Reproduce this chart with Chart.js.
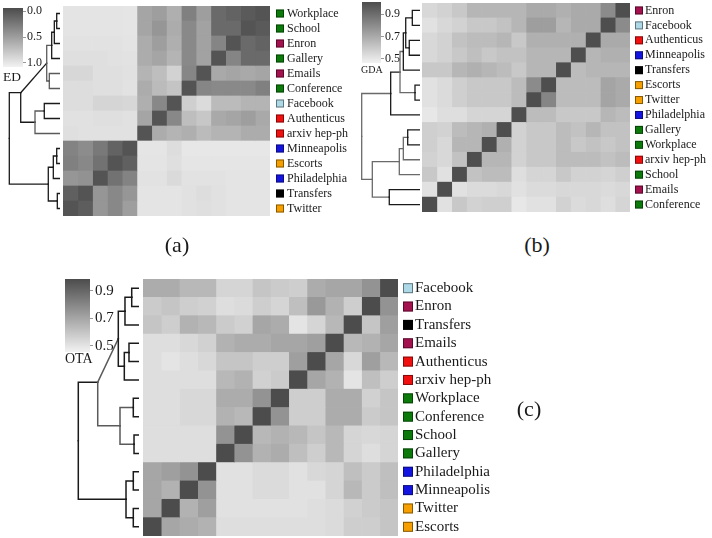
<!DOCTYPE html>
<html>
<head>
<meta charset="utf-8">
<script src="https://cdn.jsdelivr.net/npm/chart.js@4"></script>
<style>
  body { margin: 0; width: 712px; height: 538px; background: #fff; position: relative; overflow: hidden; }
  canvas { position: absolute; }
  .txt { position: absolute; font-family: 'Liberation Serif', serif; color: #1a1a1a; line-height: 1; white-space: nowrap; }
  .panel { transform: translate(-50%, -50%); font-size: 22px; }
</style>
</head>
<body>
<canvas id="dendA" width="60" height="210" style="left:0;top:6px"></canvas>
<canvas id="barA" width="60" height="72" style="left:0;top:0"></canvas>
<canvas id="heatA" width="297" height="210" style="left:63px;top:6px"></canvas>
<div class="txt" style="left:3px;top:70px;font-size:13.5px">ED</div>

<canvas id="dendB" width="60" height="209" style="left:360px;top:3px"></canvas>
<canvas id="barB" width="60" height="68" style="left:360px;top:0"></canvas>
<canvas id="heatB" width="290" height="209" style="left:422px;top:3px"></canvas>
<div class="txt" style="left:361px;top:65px;font-size:10px">GDA</div>

<canvas id="dendC" width="77" height="257" style="left:62px;top:279px"></canvas>
<canvas id="barC" width="70" height="86" style="left:62px;top:272px"></canvas>
<canvas id="heatC" width="375" height="257" style="left:143px;top:279px"></canvas>
<div class="txt" style="left:65px;top:352px;font-size:14px">OTA</div>

<div class="txt panel" style="left:177px;top:245px">(a)</div>
<div class="txt panel" style="left:537px;top:245px">(b)</div>
<div class="txt panel" style="left:529px;top:409px">(c)</div>

<script>
// network type colours for the little squares
const netColors = {
  'Workplace': '#0b7a0b', 'School': '#0b7a0b', 'Gallery': '#0b7a0b', 'Conference': '#0b7a0b',
  'Enron': '#a3124e', 'Emails': '#a3124e',
  'Facebook': '#add8e6',
  'Authenticus': '#f01010', 'arxiv hep-ph': '#f01010',
  'Minneapolis': '#1414e0', 'Philadelphia': '#1414e0',
  'Escorts': '#f5a000', 'Twitter': '#f5a000',
  'Transfers': '#000000'
};

// (a) ED
const rowsA = ['Workplace', 'School', 'Enron', 'Gallery', 'Emails', 'Conference', 'Facebook',
  'Authenticus', 'arxiv hep-ph', 'Minneapolis', 'Escorts', 'Philadelphia', 'Transfers', 'Twitter'];
const edValues = [
  [0.98, 0.98, 0.98, 0.98, 0.99, 0.55, 0.50, 0.62, 0.30, 0.50, 0.15, 0.10, 0.04, 0.00],
  [0.98, 0.98, 0.98, 0.98, 0.99, 0.55, 0.45, 0.60, 0.36, 0.53, 0.15, 0.15, 0.00, 0.04],
  [0.97, 0.97, 0.97, 0.97, 0.98, 0.60, 0.50, 0.62, 0.36, 0.53, 0.33, 0.00, 0.15, 0.10],
  [0.95, 0.95, 0.95, 0.96, 0.97, 0.60, 0.55, 0.65, 0.36, 0.53, 0.00, 0.33, 0.15, 0.15],
  [0.89, 0.89, 0.95, 0.95, 0.96, 0.65, 0.72, 0.86, 0.34, 0.00, 0.58, 0.55, 0.58, 0.55],
  [0.93, 0.93, 0.95, 0.95, 0.97, 0.60, 0.70, 0.76, 0.00, 0.34, 0.36, 0.36, 0.36, 0.30],
  [0.93, 0.93, 0.88, 0.88, 0.89, 0.62, 0.35, 0.00, 0.84, 0.92, 0.70, 0.70, 0.65, 0.65],
  [0.96, 0.96, 0.95, 0.95, 0.96, 0.55, 0.00, 0.35, 0.72, 0.78, 0.58, 0.55, 0.50, 0.58],
  [0.95, 0.96, 0.96, 0.96, 0.96, 0.00, 0.60, 0.65, 0.62, 0.70, 0.65, 0.65, 0.60, 0.60],
  [0.32, 0.38, 0.25, 0.10, 0.00, 0.99, 0.99, 0.93, 1.00, 1.00, 1.00, 1.00, 1.00, 1.00],
  [0.30, 0.35, 0.20, 0.00, 0.08, 0.98, 0.98, 0.95, 0.99, 0.99, 0.99, 0.99, 0.99, 0.99],
  [0.45, 0.42, 0.00, 0.20, 0.32, 0.97, 0.97, 0.91, 0.97, 0.97, 0.97, 0.98, 0.98, 0.98],
  [0.08, 0.00, 0.45, 0.35, 0.45, 0.98, 0.98, 0.98, 0.96, 0.93, 0.96, 0.98, 0.98, 0.98],
  [0.00, 0.06, 0.45, 0.35, 0.50, 0.98, 0.98, 0.98, 0.96, 0.95, 0.96, 0.98, 0.98, 0.98]
];
const edRange = [-0.058, 1.077];
const edTicks = [0, 0.25, 0.5, 0.75, 1.0];
const edLabelled = [0, 0.5, 1.0];
// merges: [childA, childB, height]; leaves are 0..13, merge k is node 14 + k
const mergesA = [
  [0, 1, 0.065], [14, 2, 0.112], [15, 3, 0.164], [4, 5, 0.211], [16, 17, 0.262],
  [6, 7, 0.31], [19, 8, 0.493], [18, 20, 0.775], [9, 10, 0.065], [22, 11, 0.132],
  [12, 13, 0.053], [23, 24, 0.231], [21, 25, 1.0]
];
const mergeColorsA = ['#1a1a1a', '#1a1a1a', '#1a1a1a', '#5a5a5a', '#5a5a5a', '#1a1a1a', '#5a5a5a',
  '#1a1a1a', '#1a1a1a', '#1a1a1a', '#1a1a1a', '#1a1a1a', '#1a1a1a'];
const diagA = [7];

// (b) GDA
const rowsB = ['Enron', 'Facebook', 'Authenticus', 'Minneapolis', 'Transfers', 'Escorts', 'Twitter',
  'Philadelphia', 'Gallery', 'Workplace', 'arxiv hep-ph', 'School', 'Emails', 'Conference'];
const gdaValues = [
  [0.55, 0.57, 0.60, 0.66, 0.66, 0.66, 0.66, 0.70, 0.70, 0.68, 0.70, 0.70, 0.80, 1.00],
  [0.52, 0.55, 0.57, 0.60, 0.60, 0.62, 0.66, 0.74, 0.74, 0.66, 0.70, 0.70, 1.00, 0.80],
  [0.55, 0.57, 0.62, 0.64, 0.64, 0.66, 0.60, 0.68, 0.68, 0.68, 0.68, 1.00, 0.70, 0.70],
  [0.55, 0.57, 0.60, 0.63, 0.60, 0.62, 0.62, 0.66, 0.66, 0.66, 1.00, 0.66, 0.68, 0.68],
  [0.60, 0.60, 0.66, 0.68, 0.66, 0.64, 0.60, 0.66, 0.66, 1.00, 0.64, 0.66, 0.66, 0.66],
  [0.52, 0.54, 0.58, 0.60, 0.60, 0.60, 0.64, 0.80, 1.00, 0.64, 0.64, 0.64, 0.72, 0.70],
  [0.52, 0.54, 0.58, 0.60, 0.60, 0.60, 0.64, 1.00, 0.82, 0.64, 0.64, 0.64, 0.72, 0.70],
  [0.50, 0.53, 0.53, 0.56, 0.56, 0.56, 1.00, 0.64, 0.64, 0.60, 0.60, 0.60, 0.66, 0.64],
  [0.58, 0.57, 0.64, 0.66, 0.68, 1.00, 0.57, 0.60, 0.60, 0.64, 0.62, 0.66, 0.62, 0.62],
  [0.58, 0.55, 0.66, 0.66, 1.00, 0.68, 0.57, 0.60, 0.60, 0.64, 0.60, 0.62, 0.60, 0.62],
  [0.57, 0.55, 0.62, 1.00, 0.66, 0.66, 0.57, 0.60, 0.60, 0.64, 0.64, 0.64, 0.62, 0.64],
  [0.60, 0.52, 1.00, 0.62, 0.64, 0.64, 0.53, 0.56, 0.56, 0.60, 0.57, 0.57, 0.56, 0.58],
  [0.52, 1.00, 0.52, 0.54, 0.54, 0.55, 0.52, 0.54, 0.54, 0.55, 0.55, 0.55, 0.54, 0.55],
  [1.00, 0.52, 0.60, 0.57, 0.58, 0.58, 0.50, 0.52, 0.52, 0.57, 0.54, 0.55, 0.53, 0.56]
];
const gdaRange = [0.464, 1.007];
const gdaTicks = [0.5, 0.6, 0.7, 0.8, 0.9];
const gdaLabelled = [0.5, 0.7, 0.9];
const mergesB = [
  [0, 1, 0.132], [2, 3, 0.184], [14, 15, 0.245], [16, 4, 0.286], [5, 6, 0.086],
  [17, 18, 0.343], [19, 7, 0.503], [8, 9, 0.211], [21, 10, 0.286], [22, 11, 0.355],
  [12, 13, 0.527], [23, 24, 0.818], [20, 25, 1.0]
];
const mergeColorsB = ['#1a1a1a', '#1a1a1a', '#1a1a1a', '#1a1a1a', '#1a1a1a', '#6a6a6a', '#1a1a1a',
  '#1a1a1a', '#6a6a6a', '#6a6a6a', '#1a1a1a', '#6a6a6a', '#6a6a6a'];
const diagB = [];

// (c) OTA
const rowsC = ['Facebook', 'Enron', 'Transfers', 'Emails', 'Authenticus', 'arxiv hep-ph', 'Workplace',
  'Conference', 'School', 'Gallery', 'Philadelphia', 'Minneapolis', 'Twitter', 'Escorts'];
const otaValues = [
  [0.68, 0.68, 0.64, 0.64, 0.55, 0.55, 0.60, 0.58, 0.57, 0.68, 0.70, 0.70, 0.76, 1.00],
  [0.58, 0.60, 0.57, 0.56, 0.52, 0.53, 0.57, 0.55, 0.62, 0.74, 0.66, 0.57, 1.00, 0.76],
  [0.60, 0.57, 0.66, 0.64, 0.58, 0.56, 0.70, 0.68, 0.50, 0.55, 0.64, 1.00, 0.60, 0.72],
  [0.52, 0.52, 0.54, 0.56, 0.66, 0.68, 0.68, 0.70, 0.70, 0.72, 1.00, 0.64, 0.66, 0.70],
  [0.52, 0.50, 0.52, 0.54, 0.60, 0.60, 0.57, 0.57, 0.72, 1.00, 0.70, 0.54, 0.72, 0.64],
  [0.52, 0.52, 0.52, 0.52, 0.64, 0.66, 0.56, 0.58, 1.00, 0.70, 0.66, 0.50, 0.62, 0.57],
  [0.52, 0.52, 0.54, 0.54, 0.68, 0.68, 0.76, 1.00, 0.57, 0.57, 0.68, 0.68, 0.56, 0.60],
  [0.52, 0.52, 0.54, 0.54, 0.66, 0.64, 1.00, 0.76, 0.57, 0.57, 0.68, 0.68, 0.58, 0.60],
  [0.52, 0.52, 0.52, 0.52, 0.76, 1.00, 0.64, 0.66, 0.64, 0.60, 0.64, 0.55, 0.54, 0.55],
  [0.52, 0.52, 0.52, 0.52, 1.00, 0.76, 0.66, 0.68, 0.62, 0.57, 0.64, 0.55, 0.52, 0.55],
  [0.70, 0.72, 0.76, 1.00, 0.51, 0.51, 0.53, 0.53, 0.51, 0.54, 0.55, 0.62, 0.58, 0.62],
  [0.70, 0.66, 1.00, 0.76, 0.51, 0.51, 0.53, 0.53, 0.51, 0.51, 0.55, 0.64, 0.58, 0.62],
  [0.70, 1.00, 0.66, 0.72, 0.51, 0.51, 0.51, 0.51, 0.51, 0.52, 0.53, 0.56, 0.58, 0.60],
  [1.00, 0.70, 0.68, 0.66, 0.52, 0.52, 0.52, 0.52, 0.52, 0.52, 0.53, 0.57, 0.57, 0.60]
];
const otaRange = [0.456, 0.987];
const otaTicks = [0.5, 0.6, 0.7, 0.8, 0.9];
const otaLabelled = [0.5, 0.7, 0.9];
const mergesC = [
  [0, 1, 0.120], [14, 2, 0.231], [3, 4, 0.165], [16, 5, 0.242], [15, 17, 0.341],
  [6, 7, 0.094], [8, 9, 0.082], [19, 20, 0.313], [18, 21, 0.680], [10, 11, 0.094],
  [12, 13, 0.094], [23, 24, 0.214], [22, 25, 1.0]
];
const mergeColorsC = ['#1a1a1a', '#1a1a1a', '#1a1a1a', '#1a1a1a', '#1a1a1a', '#1a1a1a', '#1a1a1a',
  '#5a5a5a', '#5a5a5a', '#1a1a1a', '#1a1a1a', '#1a1a1a', '#1a1a1a'];
const diagC = [8];

const LIGHT = 242;
const DARK = 76;
const FONT = 'Liberation Serif';

function grayFor(v, range, invert) {
  let t = (v - range[0]) / (range[1] - range[0]);
  if (invert) t = 1 - t;
  t = Math.max(0, Math.min(1, t));
  const g = Math.round(LIGHT + (DARK - LIGHT) * t);
  return `rgb(${g},${g},${g})`;
}

// the tick padding would otherwise also pad the chart area top and bottom
function fixAxis(width) {
  return axis => {
    axis.width = width;
    axis.paddingTop = 0;
    axis.paddingBottom = 0;
  };
}

const netSquares = {
  id: 'netSquares',
  afterDraw(chart, args, opts) {
    const ctx = chart.ctx;
    const y = chart.scales.y;
    const area = chart.chartArea;
    chart.data.labels.forEach((name, i) => {
      const py = y.getPixelForValue(i);
      const x = area.right + opts.gap;
      ctx.fillStyle = netColors[name];
      ctx.fillRect(x, py - opts.size / 2, opts.size, opts.size);
      ctx.strokeStyle = 'rgba(0,0,0,0.45)';
      ctx.lineWidth = 1;
      ctx.strokeRect(x + 0.5, py - opts.size / 2 + 0.5, opts.size - 1, opts.size - 1);
    });
  }
};

function makeHeatmap(id, rows, values, range, invert, fontSize, pad, axisW, sq) {
  const n = rows.length;
  const datasets = [];
  for (let j = 0; j < n; j++) {
    datasets.push({
      data: rows.map(() => 1),
      backgroundColor: rows.map((_, i) => grayFor(values[i][j], range, invert)),
      borderWidth: 0,
      categoryPercentage: 1,
      barPercentage: 1
    });
  }
  new Chart(document.getElementById(id), {
    type: 'bar',
    data: { labels: rows, datasets: datasets },
    options: {
      indexAxis: 'y',
      responsive: false,
      animation: false,
      layout: { padding: 0 },
      plugins: {
        legend: { display: false },
        tooltip: { enabled: false },
        netSquares: sq
      },
      scales: {
        x: { stacked: true, min: 0, max: n, display: false },
        y: {
          stacked: true,
          position: 'right',
          grid: { display: false, drawTicks: false },
          border: { display: false },
          ticks: { color: '#1a1a1a', font: { family: FONT, size: fontSize }, padding: pad, autoSkip: false },
          afterFit: fixAxis(axisW)
        }
      }
    },
    plugins: [netSquares]
  });
}

function makeDendrogram(id, merges, colors, diag, xmax, lineW) {
  const nodes = [];
  for (let i = 0; i < 14; i++) nodes.push({ h: 0, y: i + 0.5 });
  const datasets = [];
  merges.forEach(([a, b, h], k) => {
    const A = nodes[a];
    const B = nodes[b];
    const y = (A.y + B.y) / 2;
    const linkA = diag.includes(k)
      ? [{ x: A.h, y: A.y }, { x: h, y: y }]
      : [{ x: A.h, y: A.y }, { x: h, y: A.y }, { x: h, y: y }];
    const linkB = [{ x: B.h, y: B.y }, { x: h, y: B.y }, { x: h, y: y }];
    [linkA, linkB].forEach(pts => {
      datasets.push({
        data: pts,
        showLine: true,
        borderColor: colors[k],
        borderWidth: lineW,
        pointRadius: 0,
        borderCapStyle: 'square',
        borderJoinStyle: 'miter',
        clip: false
      });
    });
    nodes.push({ h: h, y: y });
  });
  new Chart(document.getElementById(id), {
    type: 'scatter',
    data: { datasets: datasets },
    options: {
      responsive: false,
      animation: false,
      layout: { padding: 0 },
      plugins: { legend: { display: false }, tooltip: { enabled: false } },
      scales: {
        x: { type: 'linear', min: 0, max: xmax, reverse: true, display: false },
        y: { type: 'linear', min: 0, max: 14, reverse: true, display: false }
      }
    }
  });
}

function makeColorbar(id, range, invert, ticks, labelled, fontSize, padding, axisW, pad) {
  new Chart(document.getElementById(id), {
    type: 'bar',
    data: {
      labels: [''],
      datasets: [{
        data: [[range[0], range[1]]],
        backgroundColor: c => {
          const chart = c.chart;
          if (!chart.chartArea) return '#999';
          const y = chart.scales.y;
          const g = chart.ctx.createLinearGradient(0, y.getPixelForValue(range[0]), 0, y.getPixelForValue(range[1]));
          g.addColorStop(0, grayFor(range[0], range, invert));
          g.addColorStop(1, grayFor(range[1], range, invert));
          return g;
        },
        borderWidth: 0,
        categoryPercentage: 1,
        barPercentage: 1
      }]
    },
    options: {
      responsive: false,
      animation: false,
      layout: { padding: padding },
      plugins: { legend: { display: false }, tooltip: { enabled: false } },
      scales: {
        x: { display: false },
        y: {
          position: 'right',
          min: range[0],
          max: range[1],
          reverse: invert,
          grid: { drawOnChartArea: false, drawTicks: true, tickLength: 3, color: '#999' },
          border: { display: false },
          afterBuildTicks: axis => { axis.ticks = ticks.map(v => ({ value: v })); },
          ticks: {
            color: '#1a1a1a',
            font: { family: FONT, size: fontSize },
            padding: pad,
            callback: v => labelled.some(l => Math.abs(l - v) < 1e-6) ? v.toFixed(1) : ''
          },
          afterFit: fixAxis(axisW)
        }
      }
    }
  });
}

makeHeatmap('heatA', rowsA, edValues, edRange, true, 12, 17, 90, { gap: 6, size: 8 });
makeHeatmap('heatB', rowsB, gdaValues, gdaRange, false, 12, 15, 82, { gap: 5, size: 8 });
makeHeatmap('heatC', rowsC, otaValues, otaRange, false, 15, 17, 120, { gap: 5, size: 10 });

makeDendrogram('dendA', mergesA, mergeColorsA, diagA, 60 / 50.7, 1.3);
makeDendrogram('dendB', mergesB, mergeColorsB, diagB, 60 / 58.3, 1.3);
makeDendrogram('dendC', mergesC, mergeColorsC, diagC, 77 / 60.7, 1.5);

makeColorbar('barA', edRange, true, edTicks, edLabelled, 12, { left: 3, top: 8, bottom: 5 }, 37, 1);
makeColorbar('barB', gdaRange, false, gdaTicks, gdaLabelled, 12, { left: 2, top: 2, bottom: 5 }, 39, 1);
makeColorbar('barC', otaRange, false, otaTicks, otaLabelled, 15, { left: 3, top: 7, bottom: 6 }, 42, 2);
</script>
</body>
</html>
